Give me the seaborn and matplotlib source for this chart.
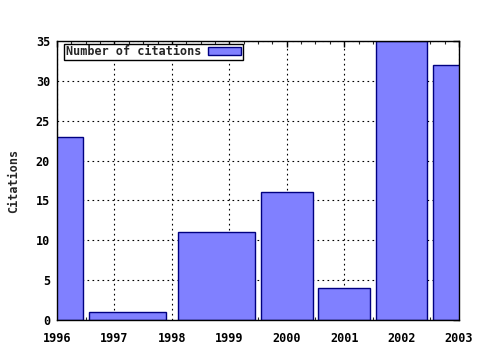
import matplotlib
matplotlib.use("Agg")
import matplotlib.pyplot as plt
from matplotlib.ticker import MultipleLocator
import seaborn as sns
import numpy as np

years = [1996, 1997, 1999, 2000, 2001, 2002, 2003]
citations = [23, 1, 11, 16, 4, 35, 32]
series_name = "Number of citations"
x_ticks = [1996, 1997, 1998, 1999, 2000, 2001, 2002, 2003]
y_ticks = [0, 5, 10, 15, 20, 25, 30, 35]

sns.set_theme(style="white")
plt.rcParams['font.family'] = ['DejaVu Sans Mono', 'DejaVu Sans']
plt.rcParams['font.weight'] = 'bold'

fig = plt.figure(figsize=(4.8, 3.5), dpi=100)
ax = fig.add_axes([57/480, 1-320/350, (459-57)/480, (320-41)/350])

# gnuplot-style variable box widths (0.9 of half-distances to neighbours)
x = np.array(years, dtype=float)
rel = 0.9
lefts, widths = [], []
for i in range(len(x)):
    dl = (x[i] - x[i-1]) if i > 0 else (x[i+1] - x[i])
    dr = (x[i+1] - x[i]) if i < len(x) - 1 else (x[i] - x[i-1])
    l = x[i] - rel * dl / 2
    r = x[i] + rel * dr / 2
    lefts.append(l)
    widths.append(r - l)

ax.set_axisbelow(True)
ax.grid(True, color='black', linestyle=(0, (1.5, 3)), linewidth=0.8)
ax.bar(lefts, citations, width=widths, align='edge', color='#8080ff',
       edgecolor='#000080', linewidth=1.0, label=series_name, zorder=2)

ax.set_xlim(1996, 2003)
ax.set_ylim(0, 35)
ax.set_xticks(x_ticks)
ax.set_xticklabels([str(t) for t in x_ticks])
ax.set_yticks(y_ticks)
ax.xaxis.set_minor_locator(MultipleLocator(0.25))
ax.tick_params(axis='both', which='major', direction='in', length=4, width=1,
               top=True, right=True, labelsize=8.5, colors='black')
ax.tick_params(axis='x', which='major', pad=9)
ax.tick_params(axis='y', which='major', pad=5)
ax.tick_params(axis='x', which='minor', direction='in', length=2, width=0.8,
               top=True, bottom=True)
for s in ax.spines.values():
    s.set_color('black')
    s.set_linewidth(1.0)
ax.set_ylabel("Citations", fontsize=8.5, fontweight='bold', labelpad=11)

leg = ax.legend(loc='upper left', bbox_to_anchor=(0.015, 0.995), markerfirst=False,
                fancybox=False, framealpha=1, edgecolor='black', fontsize=8.5,
                borderpad=0.15, handlelength=2.8, handleheight=0.6,
                handletextpad=0.6, borderaxespad=0.1)
leg.get_frame().set_linewidth(1.0)

fig.savefig("out.png", dpi=100)
